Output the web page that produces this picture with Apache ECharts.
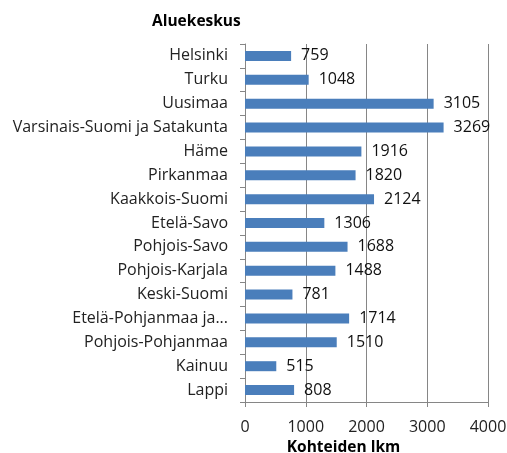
<!DOCTYPE html>
<html><head><meta charset="utf-8">
<script src="https://cdn.jsdelivr.net/npm/echarts@6/dist/echarts.min.js"></script>
<style>html,body{margin:0;padding:0;background:#fff}#c{width:507px;height:453px}</style>
</head><body><div id="c"></div>
<script>
const categories = ["Helsinki","Turku","Uusimaa","Varsinais-Suomi ja Satakunta","Häme","Pirkanmaa","Kaakkois-Suomi","Etelä-Savo","Pohjois-Savo","Pohjois-Karjala","Keski-Suomi","Etelä-Pohjanmaa ja...","Pohjois-Pohjanmaa","Kainuu","Lappi"];
const values = [759,1048,3105,3269,1916,1820,2124,1306,1688,1488,781,1714,1510,515,808];
const titleText = "Aluekeskus";
const xAxisName = "Kohteiden lkm";
const FONT = "Open Sans";
const chart = echarts.init(document.getElementById('c'), null, {renderer:'canvas'});
chart.setOption({
  animation:false,
  title:{text:titleText,left:147,top:9,textStyle:{fontFamily:FONT,fontSize:15.5,fontWeight:'bold',color:'#000'}},
  grid:{left:245,right:19,top:44,bottom:51,containLabel:false,outerBoundsMode:'none'},
  xAxis:{type:'value',min:0,max:4000,interval:1000,
    name:xAxisName,nameLocation:'middle',nameGap:37,
    nameTextStyle:{fontFamily:FONT,fontSize:15.5,fontWeight:'bold',color:'#000',padding:[0,46,0,0]},
    axisLine:{show:true,lineStyle:{color:'#868686'}},
    axisTick:{show:true,length:5,lineStyle:{color:'#868686'}},
    axisLabel:{fontFamily:FONT,fontSize:16,color:'#222',margin:17,formatter:function(v){return String(v);}},
    splitLine:{show:true,lineStyle:{color:'#868686'}}},
  yAxis:{type:'category',data:categories,inverse:true,
    axisLine:{show:true,lineStyle:{color:'#868686'}},
    axisTick:{show:true,length:5,lineStyle:{color:'#868686'}},
    axisLabel:{fontFamily:FONT,fontSize:16,color:'#222',margin:17}},
  series:[{type:'bar',data:values,barWidth:10,
    itemStyle:{color:'#4a7ebb'},
    label:{show:true,position:'right',distance:10,fontFamily:FONT,fontSize:16,color:'#111'}}]
});
</script></body></html>
